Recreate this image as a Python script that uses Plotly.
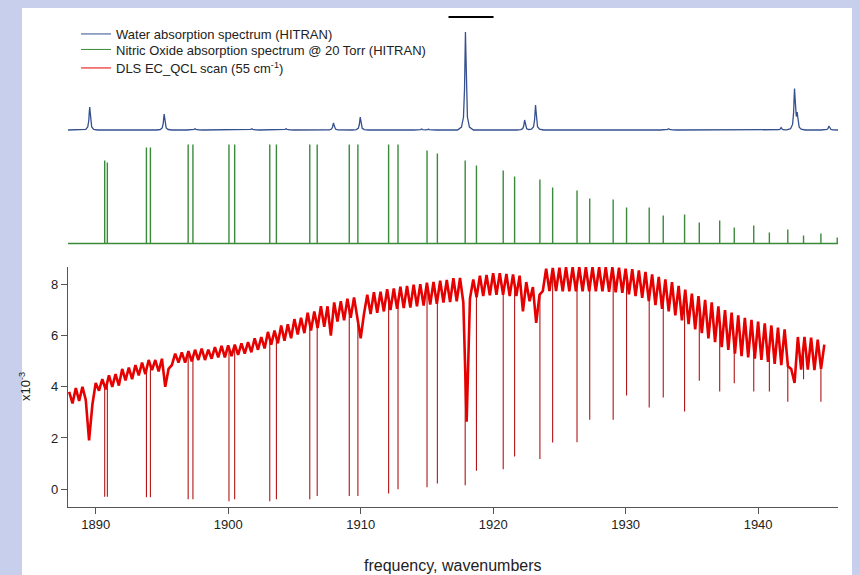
import numpy as np
import plotly.graph_objects as go

# ---------------- data ----------------
# Water (HITRAN) line centres [cm-1] and peak heights (arb. units)
water_wn = [1889.55, 1895.17, 1897.49, 1901.78, 1904.37, 1907.95, 1909.97,
            1914.60, 1915.10, 1917.91, 1922.38, 1923.20, 1933.24, 1941.74,
            1942.75, 1942.95, 1945.35]
water_int = [23, 16, 1.5, 1.5, 1.5, 7, 13, 1, 1, 98, 10, 25, 1.5, 2.5, 40, 14, 4]

# Nitric oxide (HITRAN, 20 Torr) doublet line centres and heights (arb. units)
no_wn = [1890.68, 1890.88, 1893.83, 1894.13, 1896.98, 1897.34, 1900.06, 1900.49,
         1903.14, 1903.64, 1906.16, 1906.72, 1909.14, 1909.79, 1912.11, 1912.82,
         1915.01, 1915.79, 1917.89, 1918.74, 1920.76, 1921.62, 1923.53, 1924.49,
         1926.33, 1927.29, 1929.06, 1930.07, 1931.78, 1932.84, 1934.45, 1935.56,
         1937.10, 1938.20, 1939.67, 1940.85, 1942.24, 1943.43, 1944.74, 1945.97]
no_int = [83, 81, 96, 96, 99, 99, 99, 99, 99, 99, 99, 99, 99, 99, 99, 99,
          93, 90, 83, 78, 73, 67, 64, 56, 53, 45, 44, 36, 36, 28, 29, 21,
          23, 16, 18, 11, 14, 8, 10, 6]
# depth reached by each NO absorption dip in the laser scan (x10^-3)
no_scan_depth = [-0.30, -0.30, -0.32, -0.32, -0.40, -0.40, -0.48, -0.40,
                 -0.48, -0.40, -0.40, -0.27, -0.27, -0.27, -0.17, -0.01,
                 0.07, 0.22, 0.15, 0.72, 0.78, 1.27, 1.18, 1.82,
                 1.83, 2.71, 2.71, 3.66, 3.19, 3.58, 3.03, 4.24,
                 3.82, 4.14, 3.82, 3.82, 3.42, 4.30, 3.42, None]

# DLS EC-QCL scan (x10^-3), sampled every 0.25 cm-1 from 1888.0 cm-1
scan_start = 1888.0
scan_step = 0.25
scan_val = [
    3.80, 3.35, 3.95, 3.45,  4.00, 3.50, 1.90, 3.30,  4.15, 3.85, 4.30, 3.90,
    4.45, 4.00, 4.50, 4.05,  4.70, 4.25, 4.75, 4.30,  4.85, 4.45, 4.95, 4.50,
    5.05, 4.65, 5.05, 4.60,  5.10, 4.00, 4.70, 4.85,  5.30, 4.95, 5.35, 4.95,
    5.40, 5.00, 5.45, 5.05,  5.50, 5.05, 5.45, 5.10,  5.55, 5.15, 5.60, 5.15,
    5.62, 5.20, 5.65, 5.25,  5.70, 5.30, 5.75, 5.35,  5.90, 5.45, 5.95, 5.50,
    6.15, 5.65, 6.20, 5.70,  6.40, 5.80, 6.45, 5.90,  6.65, 6.05, 6.70, 6.10,
    6.90, 6.20, 6.95, 6.30,  7.15, 6.35, 7.15, 6.00,  7.30, 6.55, 7.35, 6.60,
    7.45, 6.70, 7.50, 6.75,  5.90, 6.85, 7.60, 6.85,  7.70, 6.90, 7.72, 6.95,
    7.82, 7.00, 7.85, 7.05,  7.92, 7.08, 7.95, 7.10,  8.00, 7.15, 8.02, 7.18,
    8.07, 7.22, 8.10, 7.25,  8.15, 7.30, 8.18, 7.32,  8.25, 7.35, 8.26, 7.30,
    2.64, 7.45, 8.20, 7.50,  8.35, 7.55, 8.38, 7.58,  8.45, 7.60, 8.45, 7.60,
    8.42, 7.55, 8.40, 7.55,  8.35, 6.95, 8.10, 7.35,  7.90, 6.50, 7.60, 7.75,
    8.62, 7.75, 8.65, 7.75,  8.66, 7.74, 8.68, 7.74,  8.68, 7.74, 8.68, 7.74,
    8.68, 7.74, 8.68, 7.74,  8.68, 7.74, 8.68, 7.72,  8.68, 7.70, 8.66, 7.68,
    8.62, 7.62, 8.60, 7.55,  8.55, 7.48, 8.50, 7.35,  8.40, 7.20, 8.30, 7.05,
    8.20, 6.95, 8.10, 6.80,  7.95, 6.60, 7.80, 6.45,  7.65, 6.25, 7.55, 6.10,
    7.40, 5.90, 7.30, 5.75,  7.15, 5.55, 7.00, 5.45,  6.90, 5.30, 6.80, 5.20,
    6.70, 5.15, 6.62, 5.10,  6.55, 5.05, 6.48, 4.98,  6.40, 4.90, 6.32, 4.85,
    6.25, 4.80, 4.70, 4.15,  5.95, 4.67, 5.95, 4.67,  5.92, 4.65, 5.85, 4.70,
    5.65,
]

x_range = [1887.91, 1946.03]
x_ticks = [1890, 1900, 1910, 1920, 1930, 1940]
y_ticks = [0, 2, 4, 6, 8]
legend_names = ["Water absorption spectrum (HITRAN)",
                "Nitric Oxide absorption spectrum @ 20 Torr (HITRAN)",
                "DLS EC_QCL scan (55 cm<sup>-1</sup>)"]
x_title = "frequency, wavenumbers"
y_title = "x10<sup>-3</sup>"

# ---------------- styling / geometry ----------------
W, H = 860, 575
ML, MR, MT, MB = 68, 22, 10, 68
PH = H - MT - MB
BOT_PX = H - MB

def dom(px_bottom, px_top):
    return [(BOT_PX - px_bottom) / PH, (BOT_PX - px_top) / PH]

def px_x(px):
    return (px - ML) / (W - ML - MR)

def px_y(px):
    return (BOT_PX - px) / PH

C_BLUE = "#34508e"
C_GREEN = "#3b8a3b"
C_RED = "#e60000"
C_SPIKE = "#b31414"
FONT = "Liberation Sans, Arial, sans-serif"
TXT = "#222222"

# Lorentzian-like line glyph used to draw each water line (style)
glyph_off = np.array([-0.6, -0.3, -0.15, -0.07, -0.03, 0.0, 0.03, 0.07, 0.15, 0.3, 0.6])
glyph_frac = np.array([0.0, 0.03, 0.13, 0.42, 0.8, 1.0, 0.8, 0.42, 0.13, 0.03, 0.0])

wx = [x_range[0], x_range[1]]
for w in water_wn:
    wx.extend(list(w + glyph_off))
wx = np.unique(np.array(wx))
wy = np.zeros_like(wx)
for w, h in zip(water_wn, water_int):
    wy += h * np.interp(wx, w + glyph_off, glyph_frac, left=0.0, right=0.0)

# NO stick spectrum
gx = [x_range[0], x_range[1], None]
gy = [0, 0, None]
for w, h in zip(no_wn, no_int):
    gx += [w, w, None]
    gy += [0, h, None]

# laser scan
scan_wn = scan_start + scan_step * np.arange(len(scan_val))
scan_arr = np.array(scan_val)
sx, sy = [], []
for w, d in zip(no_wn, no_scan_depth):
    if d is None or w > scan_wn[-1]:
        continue
    top = float(np.interp(w, scan_wn, scan_arr))
    sx += [w, w, None]
    sy += [top, d, None]

fig = go.Figure()
fig.add_trace(go.Scatter(x=wx, y=wy, mode="lines", yaxis="y3",
                         line=dict(color=C_BLUE, width=1.3), showlegend=False,
                         hoverinfo="skip"))
fig.add_trace(go.Scatter(x=gx, y=gy, mode="lines", yaxis="y2",
                         line=dict(color=C_GREEN, width=1.4), showlegend=False,
                         hoverinfo="skip"))
fig.add_trace(go.Scatter(x=sx, y=sy, mode="lines", yaxis="y",
                         line=dict(color=C_SPIKE, width=1.1), showlegend=False,
                         hoverinfo="skip"))
fig.add_trace(go.Scatter(x=scan_wn, y=scan_arr, mode="lines", yaxis="y",
                         line=dict(color=C_RED, width=2.6), showlegend=False,
                         hoverinfo="skip"))
# legend entries (thin samples like the original), one legend per row
legend_ids = ["legend", "legend2", "legend3"]
for name, col, lid in zip(legend_names, [C_BLUE, C_GREEN, C_RED], legend_ids):
    fig.add_trace(go.Scatter(x=[None], y=[None], mode="lines", name=name,
                             legend=lid, line=dict(color=col, width=1)))

def leg(top_px):
    return dict(x=px_x(76), y=px_y(top_px), xanchor="left", yanchor="top",
                bgcolor="rgba(0,0,0,0)", font=dict(size=13, color=TXT, family=FONT),
                itemwidth=30)

axis_col = "#555555"
fig.update_layout(
    width=W, height=H,
    margin=dict(l=ML, r=MR, t=MT, b=MB, autoexpand=False),
    paper_bgcolor="#c8cfec",
    plot_bgcolor="white",
    font=dict(family=FONT, size=12, color=TXT),
    showlegend=True,
    legend=leg(19),
    legend2=leg(34.5),
    legend3=leg(53),
    xaxis=dict(range=x_range, tickvals=x_ticks, showgrid=False, zeroline=False,
               showline=True, linecolor=axis_col, linewidth=1.2,
               ticks="outside", ticklen=6, tickcolor=axis_col,
               tickfont=dict(size=13, color=TXT), automargin=False,
               anchor="y"),
    yaxis=dict(domain=dom(506.7, 266.7), range=[-0.69, 8.70], tickvals=y_ticks,
               showgrid=False, zeroline=False, showline=True, linecolor=axis_col,
               linewidth=1.2, ticks="outside", ticklen=6, tickcolor=axis_col,
               tickfont=dict(size=13, color=TXT), automargin=False, anchor="x"),
    yaxis2=dict(domain=dom(246.5, 141.5), range=[-3, 102], visible=False, anchor="x"),
    yaxis3=dict(domain=dom(133, 30), range=[-3, 100], visible=False, anchor="x"),
    shapes=[
        dict(type="rect", xref="paper", yref="paper", x0=px_x(22), x1=px_x(852),
             y0=px_y(8), y1=px_y(H + 5), fillcolor="white", line=dict(width=0),
             layer="below"),
        dict(type="line", xref="x", yref="paper", x0=1916.63, x1=1920.03,
             y0=px_y(17), y1=px_y(17), line=dict(color="black", width=2)),
    ],
    annotations=[
        dict(text=y_title, textangle=-90, xref="paper", yref="paper",
             x=px_x(25), y=px_y(387), showarrow=False,
             font=dict(size=13, color=TXT), xanchor="center", yanchor="middle"),
        dict(text=x_title, xref="paper", yref="paper",
             x=px_x(453), y=px_y(565), showarrow=False,
             font=dict(size=16, color=TXT), xanchor="center", yanchor="middle"),
    ],
)

fig.write_html("out.html")
